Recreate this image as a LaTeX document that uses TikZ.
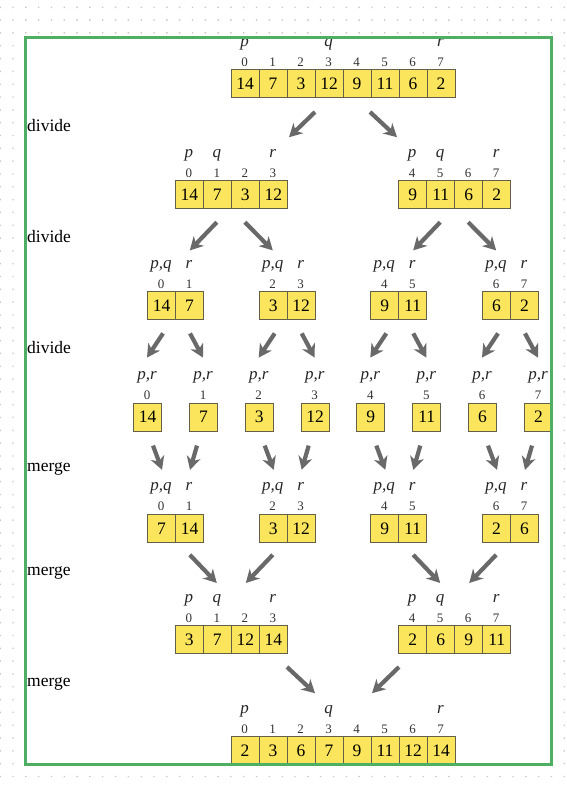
\documentclass[tikz,border=0pt]{standalone}
\usepackage{fontspec}
\setmainfont{Liberation Serif}
\usetikzlibrary{arrows.meta}
\definecolor{frameg}{RGB}{78,174,98}
\definecolor{cellfill}{RGB}{250,229,92}
\definecolor{celldraw}{RGB}{100,95,75}
\definecolor{arrowgray}{RGB}{105,105,105}
\definecolor{dotgray}{RGB}{200,200,200}
\tikzset{
  cellbox/.style={draw=celldraw, fill=cellfill, line width=1pt, minimum width=28pt,
    minimum height=28pt, inner sep=0pt, anchor=north west, font=\fontsize{17.5}{17.5}\selectfont},
  idx/.style={anchor=base, inner sep=0pt, font=\fontsize{13}{13}\selectfont, text=black!80},
  ptr/.style={anchor=base, inner sep=0pt, font=\fontsize{17}{17}\selectfont\itshape, text=black!85},
  steplabel/.style={anchor=base west, inner sep=0pt, font=\fontsize{17.5}{17.5}\selectfont},
  flow/.style={draw=arrowgray, line width=4.2pt, -{Stealth[length=13pt,width=14pt,inset=4pt]}},
}
\newcommand{\cellrow}[5]{%
  \foreach \v [count=\n from 0] in {#5} {
    \pgfmathsetmacro{\xx}{#2+28*\n}
    \pgfmathtruncatemacro{\kk}{#4+\n}
    \node[cellbox] (#1c\n) at (\xx,#3) {\v};
    \node[idx] (#1i\n) at (\xx+14,#3-3) {\kk};
  }}
\newcommand{\ptrlabel}[4]{\node[ptr] (#1) at (#2,#3-23) {#4};}
\newcommand{\flowarrow}[3]{\coordinate (#1s) at (#2); \coordinate (#1e) at (#3); \draw[flow] (#1s) -- (#1e);}
\begin{document}
\begin{tikzpicture}[x=1pt,y=-1pt]
\useasboundingbox (0,0) rectangle (567,788);
% dotted background
\fill[dotgray] \foreach \i in {-1,...,43} {\foreach \j in {0,...,60} {(13+12.82*\i-0.7, 7.3+12.82*\j-0.7) rectangle ++(1.4,1.4)}};
\fill[white] (25.5,37.5) rectangle (551,764.5);

% step labels
\node[steplabel] (d1) at (27,131) {divide};
\node[steplabel] (d2) at (27,242) {divide};
\node[steplabel] (d3) at (27,353) {divide};
\node[steplabel] (m1) at (27,471) {merge};
\node[steplabel] (m2) at (27,575) {merge};
\node[steplabel] (m3) at (27,686) {merge};

% level 1
\cellrow{A}{230.5}{69}{0}{14,7,3,12,9,11,6,2}
\ptrlabel{Ap}{244.5}{69}{p}
\ptrlabel{Aq}{328.5}{69}{q}
\ptrlabel{Ar}{440.5}{69}{r}

% level 2
\cellrow{BL}{174.8}{180.2}{0}{14,7,3,12}
\ptrlabel{BLp}{188.8}{180.2}{p}
\ptrlabel{BLq}{216.8}{180.2}{q}
\ptrlabel{BLr}{272.8}{180.2}{r}
\cellrow{BR}{398.2}{180.2}{4}{9,11,6,2}
\ptrlabel{BRp}{412.2}{180.2}{p}
\ptrlabel{BRq}{440.2}{180.2}{q}
\ptrlabel{BRr}{496.2}{180.2}{r}

% level 3
\cellrow{C1}{147}{291.4}{0}{14,7}
\cellrow{C2}{258.7}{291.4}{2}{3,12}
\cellrow{C3}{370.3}{291.4}{4}{9,11}
\cellrow{C4}{482}{291.4}{6}{6,2}
\foreach \l [count=\m] in {147,258.7,370.3,482} {
  \ptrlabel{C\m pq}{\l+14}{291.4}{p,q}
  \ptrlabel{C\m r}{\l+42}{291.4}{r}
}

% level 4
\cellrow{D1}{133}{402.6}{0}{14}
\cellrow{D2}{189}{402.6}{1}{7}
\cellrow{D3}{244.7}{402.6}{2}{3}
\cellrow{D4}{300.7}{402.6}{3}{12}
\cellrow{D5}{356.3}{402.6}{4}{9}
\cellrow{D6}{412.3}{402.6}{5}{11}
\cellrow{D7}{468}{402.6}{6}{6}
\cellrow{D8}{524}{402.6}{7}{2}
\foreach \l [count=\m] in {133,189,244.7,300.7,356.3,412.3,468,524} {
  \ptrlabel{D\m pr}{\l+14}{402.6}{p,r}
}

% level 5
\cellrow{E1}{147}{513.8}{0}{7,14}
\cellrow{E2}{258.7}{513.8}{2}{3,12}
\cellrow{E3}{370.3}{513.8}{4}{9,11}
\cellrow{E4}{482}{513.8}{6}{2,6}
\foreach \l [count=\m] in {147,258.7,370.3,482} {
  \ptrlabel{E\m pq}{\l+14}{513.8}{p,q}
  \ptrlabel{E\m r}{\l+42}{513.8}{r}
}

% level 6
\cellrow{FL}{174.8}{625}{0}{3,7,12,14}
\ptrlabel{FLp}{188.8}{625}{p}
\ptrlabel{FLq}{216.8}{625}{q}
\ptrlabel{FLr}{272.8}{625}{r}
\cellrow{FR}{398.2}{625}{4}{2,6,9,11}
\ptrlabel{FRp}{412.2}{625}{p}
\ptrlabel{FRq}{440.2}{625}{q}
\ptrlabel{FRr}{496.2}{625}{r}

% level 7
\cellrow{G}{230.5}{736.2}{0}{2,3,6,7,9,11,12,14}
\ptrlabel{Gp}{244.5}{736.2}{p}
\ptrlabel{Gq}{328.5}{736.2}{q}
\ptrlabel{Gr}{440.5}{736.2}{r}

% arrows 1->2
\flowarrow{a1}{315,112}{289,137.2}
\flowarrow{a2}{370,112}{397,137.2}
% arrows 2->3
\flowarrow{b1}{216.8,222.2}{189.8,250.4}
\flowarrow{b2}{244.8,222.2}{272.8,250.4}
\flowarrow{b3}{440.2,222.2}{413.2,250.4}
\flowarrow{b4}{468.2,222.2}{496.2,250.4}
% arrows 3->4
\foreach \e [count=\m] in {175,286.7,398.3,510} {
  \flowarrow{cl\m}{\e-12,333.4}{\e-28,357.6}
  \flowarrow{cr\m}{\e+15,333.4}{\e+28,357.6}
}
% arrows 4->5
\foreach \e [count=\m] in {175,286.7,398.3,510} {
  \flowarrow{dl\m}{\e-22,445.6}{\e-13,469.8}
  \flowarrow{dr\m}{\e+22,445.6}{\e+15,469.8}
}
% arrows 5->6
\flowarrow{e1}{189.8,554.8}{216.8,583}
\flowarrow{e2}{272.8,554.8}{245.8,583}
\flowarrow{e3}{413.2,554.8}{440.2,583}
\flowarrow{e4}{496.2,554.8}{469.2,583}
% arrows 6->7
\flowarrow{f1}{287,667}{315,693.2}
\flowarrow{f2}{399,667}{372,693.2}

% frame
\draw[frameg, line width=3pt] (25.5,37.5) rectangle (551,764.5);
\end{tikzpicture}
\end{document}
